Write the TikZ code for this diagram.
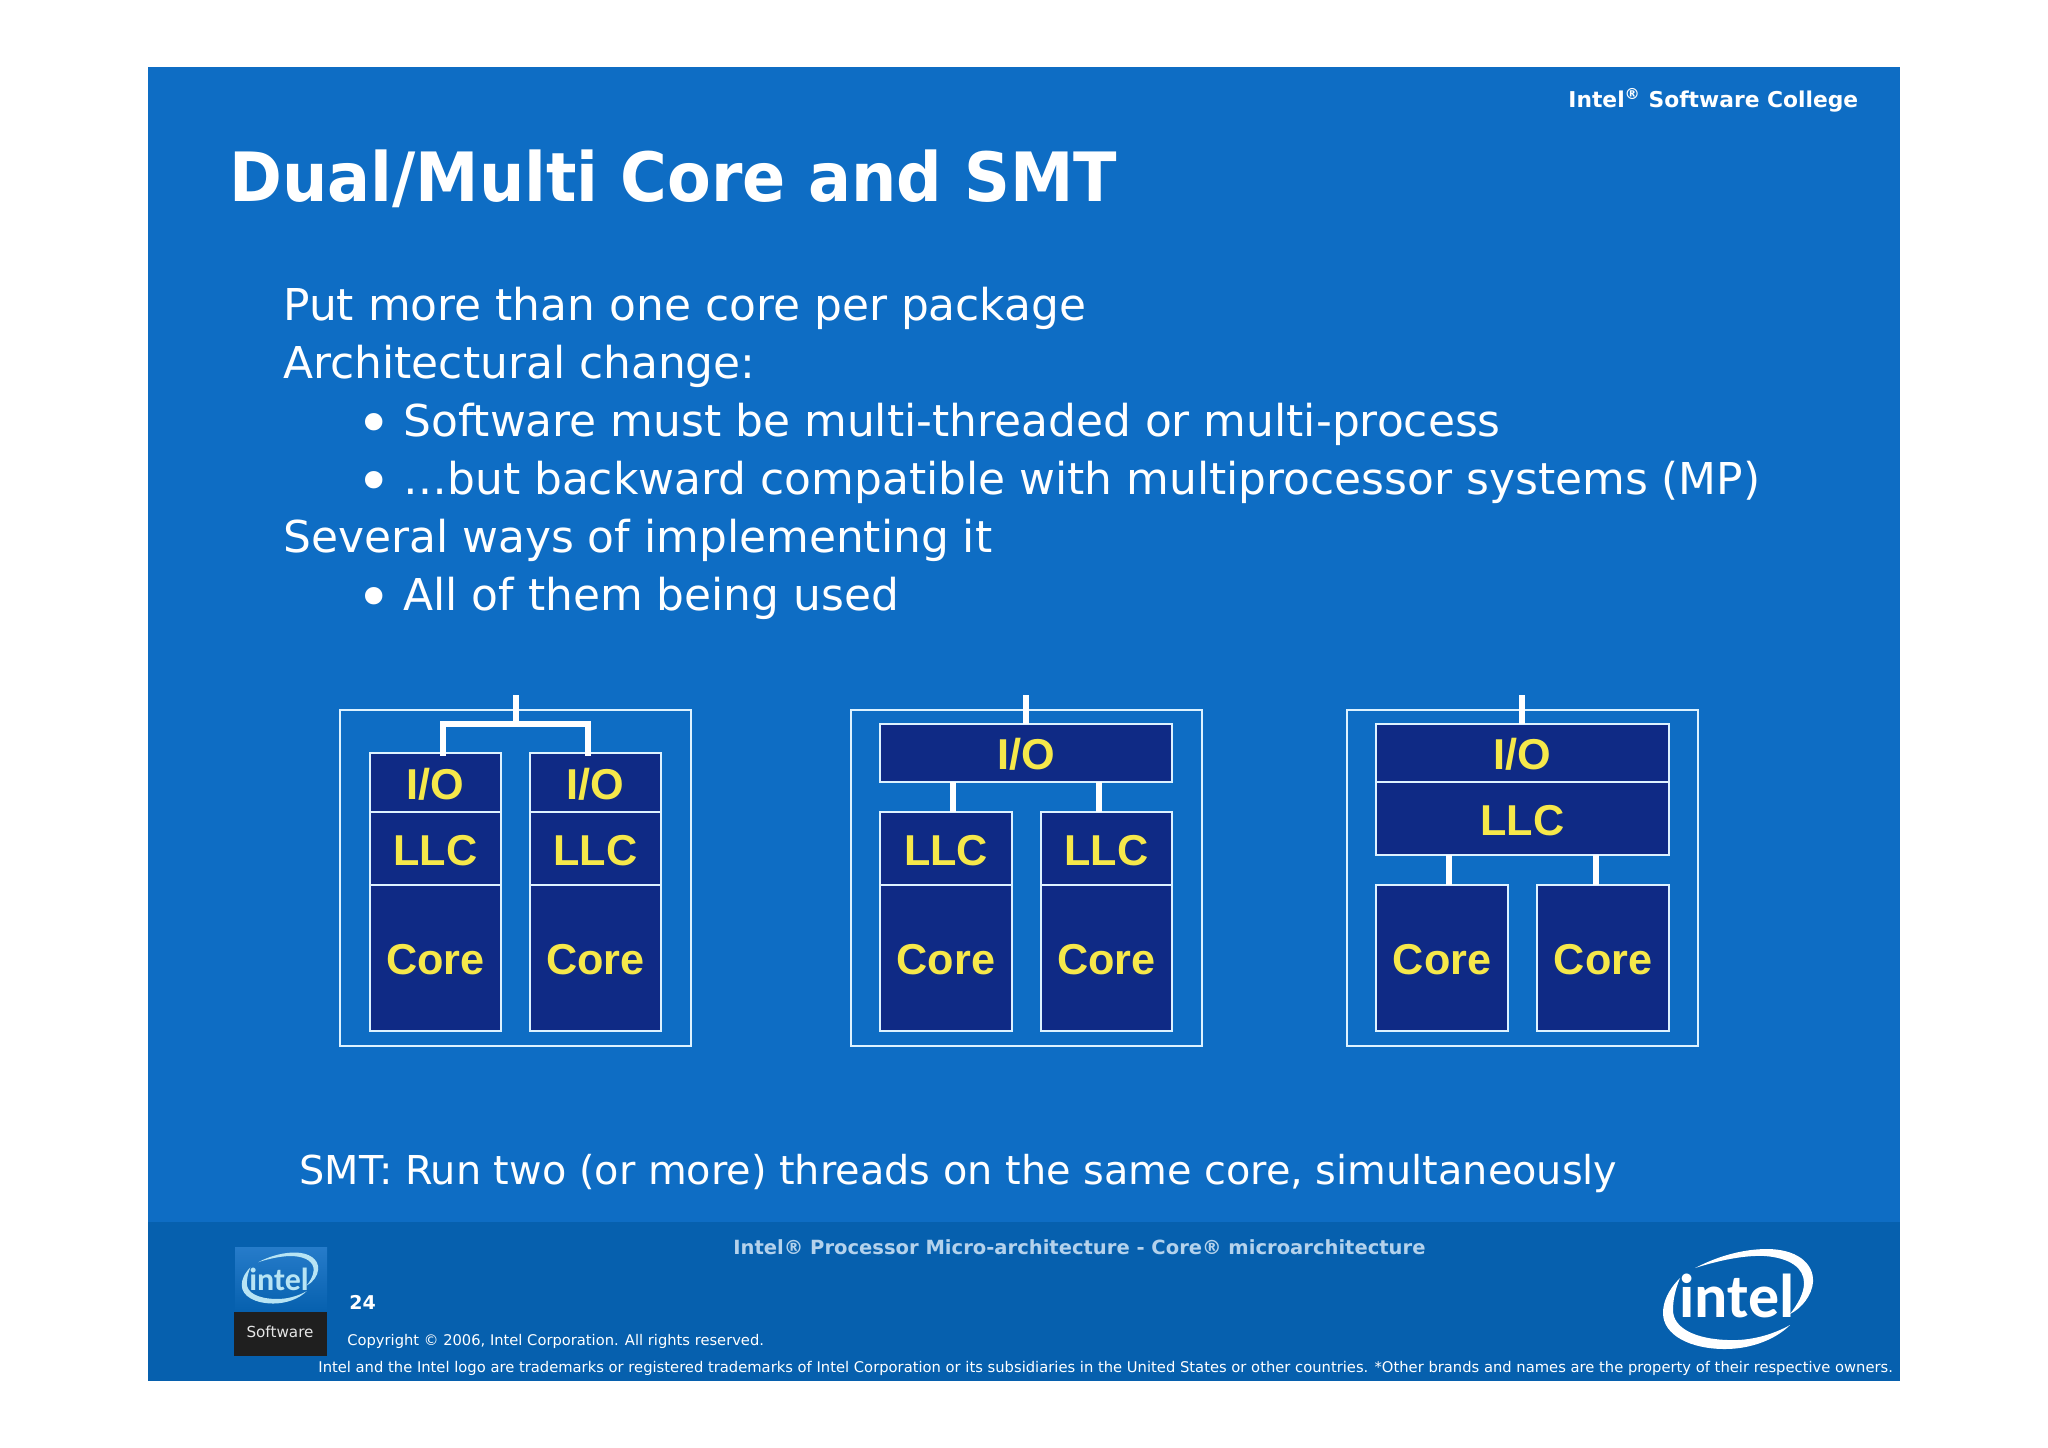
\documentclass[tikz,border=0pt]{standalone}
\usepackage{fontspec}
\setmainfont{DejaVu Sans}
\newfontfamily\arialb{Liberation Sans Bold}
\newfontfamily\titlef[FakeStretch=0.937]{DejaVu Sans Bold}
\newfontfamily\logof{Carlito Bold}
\definecolor{slide}{HTML}{0E6DC4}
\definecolor{band}{HTML}{0660AE}
\definecolor{navy}{HTML}{0F2A85}
\definecolor{yel}{HTML}{F6E84A}
\definecolor{pale}{HTML}{DDF2FF}
\definecolor{foot}{HTML}{B4D2EC}
\definecolor{swoo}{HTML}{B8E4F4}
\tikzset{
  cell/.style 2 args={draw=pale,fill=navy,line width=1.1pt,inner sep=0pt,outer sep=0pt,anchor=north west,
    minimum width=#1*0.5pt,minimum height=#2*0.5pt,text=yel,text height=16.8pt,text depth=0pt,
    font=\arialb\fontsize{21.6}{24}\selectfont},
  outer/.style 2 args={draw=pale,line width=1pt,inner sep=0pt,outer sep=0pt,anchor=north west,
    minimum width=#1*0.5pt,minimum height=#2*0.5pt},
  wire/.style={draw=white,line width=3.4pt},
  txt/.style={anchor=base west,inner sep=0pt,text=white},
  body/.style={txt,font=\fontsize{21.95}{24}\selectfont},
  bul/.style={txt,font=\fontsize{30}{30}\selectfont},
}
\newcommand{\swooshshape}{%
  \fill (-43,-31) .. controls (-18,-44) and (7,-50) .. (29,-50) .. controls (57,-50) and (76,-37) .. (75,-17)
    .. controls (74,-4) and (64,9) .. (52,15) .. controls (59,6) and (66,-5) .. (66,-16)
    .. controls (66,-31) and (52,-41) .. (27,-43) .. controls (7,-44) and (-18,-39) .. (-43,-31) -- cycle;
  \fill (-58,-21) .. controls (-70,-9) and (-75,3) .. (-75,14) .. controls (-75,36) and (-48,50) .. (-13,50)
    .. controls (12,50) and (37,41) .. (52,26) .. controls (34,36) and (12,42) .. (-10,41)
    .. controls (-43,40) and (-65,29) .. (-65,11) .. controls (-65,1) and (-63,-9) .. (-58,-21) -- cycle;
}
\begin{document}
\begin{tikzpicture}[x=0.5pt,y=-0.5pt]
\useasboundingbox (0,0) rectangle (2048,1447);
\fill[white] (0,0) rectangle (2048,1447);
\fill[slide] (148,67) rectangle (1900,1381);
\fill[band] (148,1222) rectangle (1900,1381);

% header and title
\node[txt,font=\bfseries\fontsize{10.9}{14}\selectfont] (hdr) at (1568,107) {Intel\textsuperscript{®} Software College};
\node[txt,font=\titlef\fontsize{34}{36}\selectfont] (title) at (229,201) {Dual/Multi Core and SMT};

% body text
\node[body] (l1) at (283,320) {Put more than one core per package};
\node[body] (l2) at (283,378) {Architectural change:};
\node[bul] (b1) at (356,444) {•};
\node[body] (l3) at (403,436) {Software must be multi-threaded or multi-process};
\node[bul] (b2) at (356,502) {•};
\node[body] (l4) at (403,494) {…but backward compatible with multiprocessor systems (MP)};
\node[body] (l5) at (283,552) {Several ways of implementing it};
\node[bul] (b3) at (356,618) {•};
\node[body] (l6) at (403,610) {All of them being used};
\node[txt,font=\fontsize{19.9}{24}\selectfont] (smt) at (299,1184) {SMT: Run two (or more) threads on the same core, simultaneously};

\begin{scope}[shift={(1,1)}]
% diagram 1
\node[outer={351}{336}] (pk1) at (339,709) {};
\coordinate (t1) at (515,694);
\coordinate (bus1) at (515,723);
\coordinate (busa) at (442,723);
\coordinate (busb) at (587,723);
\node[cell={131}{59}] (io1a) at (369,752) {I/O};
\node[cell={131}{73}] (ll1a) at (369,811) {LLC};
\node[cell={131}{146}] (co1a) at (369,884) {Core};
\node[cell={131}{59}] (io1b) at (529,752) {I/O};
\node[cell={131}{73}] (ll1b) at (529,811) {LLC};
\node[cell={131}{146}] (co1b) at (529,884) {Core};
\draw[wire] (t1) -- (bus1);
\draw[wire,line cap=rect] (busa |- io1a.north) -- (busa) -- (busb) -- (busb |- io1b.north);

% diagram 2
\node[outer={351}{336}] (pk2) at (850,709) {};
\coordinate (t2) at (1025,694);
\node[cell={292}{58}] (io2) at (879,723) {I/O};
\node[cell={132}{73}] (ll2a) at (879,811) {LLC};
\node[cell={132}{146}] (co2a) at (879,884) {Core};
\node[cell={131}{73}] (ll2b) at (1040,811) {LLC};
\node[cell={131}{146}] (co2b) at (1040,884) {Core};
\draw[wire] (t2) -- (t2 |- io2.north);
\coordinate (w2a) at (952,800);
\coordinate (w2b) at (1098,800);
\draw[wire] (w2a |- io2.south) -- (w2a |- ll2a.north);
\draw[wire] (w2b |- io2.south) -- (w2b |- ll2b.north);

% diagram 3
\node[outer={351}{336}] (pk3) at (1346,709) {};
\coordinate (t3) at (1521,694);
\node[cell={293}{58}] (io3) at (1375,723) {I/O};
\node[cell={293}{73}] (ll3) at (1375,781) {LLC};
\node[cell={132}{146}] (co3a) at (1375,884) {Core};
\node[cell={132}{146}] (co3b) at (1536,884) {Core};
\draw[wire] (t3) -- (t3 |- io3.north);
\coordinate (w3a) at (1448,870);
\coordinate (w3b) at (1595,870);
\draw[wire] (w3a |- ll3.south) -- (w3a |- co3a.north);
\draw[wire] (w3b |- ll3.south) -- (w3b |- co3b.north);
\end{scope}

% footer
\node[txt,text=foot,font=\bfseries\fontsize{9.77}{12}\selectfont] (ft) at (733,1254) {Intel® Processor Micro-architecture - Core® microarchitecture};
\node[txt,font=\bfseries\fontsize{9.5}{12}\selectfont] (pg) at (349,1309) {24};
\node[txt,font=\fontsize{7.35}{10}\selectfont] (cp) at (347,1345) {Copyright © 2006, Intel Corporation. All rights reserved.};
\node[txt,font=\fontsize{7.37}{10}\selectfont] (tm) at (318,1372) {Intel and the Intel logo are trademarks or registered trademarks of Intel Corporation or its subsidiaries in the United States or other countries. *Other brands and names are the property of their respective owners.};

% small logo
\shade[top color=slide!90!white,bottom color=band] (235,1247) rectangle (327,1312);
\fill[black!88] (234,1312) rectangle (327,1356);
\begin{scope}[shift={(280,1278)},x=0.255pt,y=-0.255pt,fill=swoo]
\swooshshape
\end{scope}
\node[inner sep=0pt,anchor=base,text=swoo,font=\logof\fontsize{16}{16}\selectfont] (sl) at (279,1290) {intel};
\node[inner sep=0pt,anchor=base,text=black!10,font=\fontsize{7.6}{8}\selectfont] (sw) at (280,1337) {Software};

% large logo
\begin{scope}[shift={(1738,1299)},fill=white]
\swooshshape
\end{scope}
\node[inner sep=0pt,anchor=base,text=white,font=\logof\fontsize{31}{34}\selectfont] (bl) at (1737,1317) {intel};
\end{tikzpicture}
\end{document}
